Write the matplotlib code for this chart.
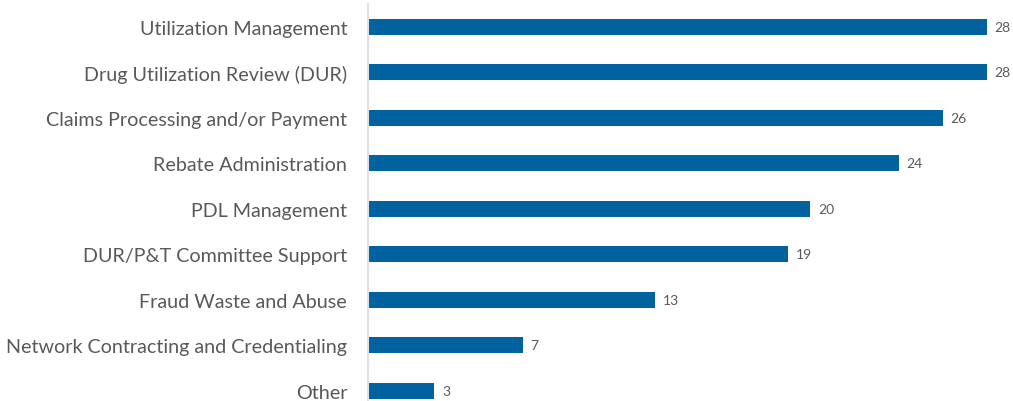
import matplotlib.pyplot as plt

categories = [
    "Utilization Management",
    "Drug Utilization Review (DUR)",
    "Claims Processing and/or Payment",
    "Rebate Administration",
    "PDL Management",
    "DUR/P&T Committee Support",
    "Fraud Waste and Abuse",
    "Network Contracting and Credentialing",
    "Other",
]
values = [28, 28, 26, 24, 20, 19, 13, 7, 3]

bar_color = "#0063A0"
text_color = "#595959"

plt.rcParams['font.family'] = ['Lato', 'DejaVu Sans']

fig = plt.figure(figsize=(10.13, 4.02), dpi=100)
ax = fig.add_axes([368 / 1013, 0, 1 - 368 / 1013, 1 - 5 / 402])

pos = list(range(len(categories)))
ax.barh(pos, values, height=0.35, color=bar_color)

for p, v in zip(pos, values):
    ax.text(v + 0.35, p, str(v), va='center', ha='left', fontsize=10, color=text_color)

ax.set_yticks(pos)
ax.set_yticklabels(categories, fontsize=14.2, color=text_color)
ax.tick_params(axis='y', length=0, pad=15)
ax.set_xticks([])
ax.set_xlim(0, (1013 - 368) / ((987 - 368) / 28))
ax.set_ylim(8 + 10 / 45.5, -0.5)

for s in ['top', 'right', 'bottom']:
    ax.spines[s].set_visible(False)
ax.spines['left'].set_color('#e0e0e0')
ax.spines['left'].set_linewidth(1.5)

fig.savefig("out.png", dpi=100)
